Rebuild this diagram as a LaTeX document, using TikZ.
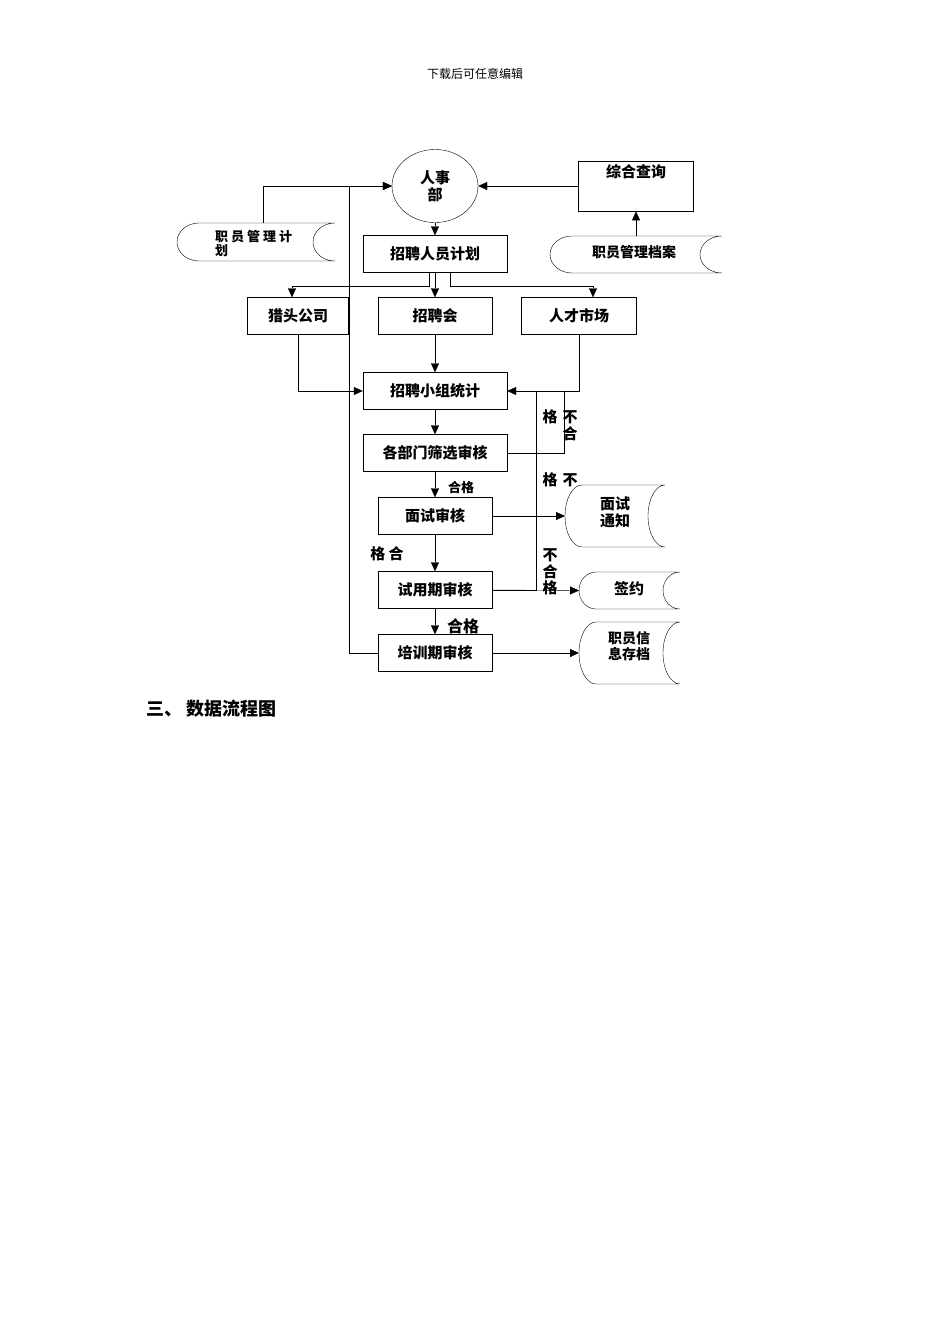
\documentclass[tikz,border=0pt]{standalone}
\usepackage{fontspec}
\newfontfamily\cjk{Noto Sans CJK SC}
\usetikzlibrary{shapes.geometric,arrows.meta}
\tikzset{
  box/.style={draw,rectangle,font=\cjk\bfseries\fontsize{15}{17}\selectfont,inner sep=0pt},
  store/.style={font=\cjk\bfseries\fontsize{14}{16}\selectfont,inner sep=0pt,align=center},
  lbl/.style={font=\cjk\bfseries\fontsize{15}{17}\selectfont,inner sep=0pt},
  flow/.style={-{Triangle[length=9pt,width=8pt]}},
}
% storage symbol: name, top, left, right, bottom, radius
\newcommand{\storage}[6]{%
  \draw (#3+#6,-#2) -- (#4,-#2)
    arc[start angle=90,end angle=270,x radius=#6 pt,y radius={(#5-#2)/2*1pt}]
    -- (#3+#6,-#5)
    arc[start angle=270,end angle=90,x radius=#6 pt,y radius={(#5-#2)/2*1pt}];
  \coordinate (#1 west) at (#3,-#2/2-#5/2);
  \coordinate (#1 north) at ({(#3+#4)/2},-#2);
}
\begin{document}
\begin{tikzpicture}[x=1pt,y=1pt]
    \useasboundingbox (0,0) rectangle (950,-1344);
    \node[font=\cjk\fontsize{12}{14}\selectfont] (head) at (475,-74) {下载后可任意编辑};

    % boxes
    \node[draw,ellipse,minimum width=86,minimum height=73,lbl,align=center,inner sep=0pt] (hr) at (435,-186) {人事\\部};
    \node[box,minimum width=115,minimum height=50,anchor=north,text depth=30pt] (query) at (636,-161) {综合查询};
    \node[box,minimum width=144,minimum height=37] (plan) at (435,-254) {招聘人员计划};
    \node[box,minimum width=101,minimum height=37] (hunt) at (298,-316) {猎头公司};
    \node[box,minimum width=114,minimum height=37] (fair) at (435,-316) {招聘会};
    \node[box,minimum width=115,minimum height=37] (market) at (579,-316) {人才市场};
    \node[box,minimum width=144,minimum height=37] (stat) at (435,-391) {招聘小组统计};
    \node[box,minimum width=144,minimum height=37] (dept) at (435,-453) {各部门筛选审核};
    \node[box,minimum width=114,minimum height=37] (interv) at (435,-516) {面试审核};
    \node[box,minimum width=114,minimum height=37] (trial) at (435,-590) {试用期审核};
    \node[box,minimum width=114,minimum height=37] (train) at (435,-653) {培训期审核};

    % storage
    \storage{mplan}{223}{177}{335}{261}{22}
    \node[store,anchor=west,align=left,font=\cjk\bfseries\fontsize{13}{14}\selectfont] (mplant) at (215,-243) {职\ 员\ 管\ 理\ 计\\划};
    \storage{arch}{236}{550}{722}{273}{22}
    \node[store] (archt) at (634,-252) {职员管理档案};
    \storage{notice}{485}{565}{665}{547}{17}
    \node[store,lbl] (noticet) at (615,-512) {面试\\通知};
    \storage{sign}{572}{579}{680}{609}{17}
    \node[lbl] (signt) at (629,-589) {签约};
    \storage{info}{622}{579}{680}{684}{17}
    \node[store] (infot) at (629,-646) {职员信\\息存档};

    % connectors
    \draw[flow] ([xshift=7]mplan north) |- (hr.west);
    \draw[flow] (train.west) -- (349,-653) -- (349,-186) -- (hr.west);
    \draw[flow] (query.west |- hr) -- (hr.east);
    \draw[flow] (arch north) -- (query.south);
    \draw[flow] (hr.south) -- (plan.north);
    \draw[flow] ([xshift=-6]plan.south) -- ++(0,-13) -| ([xshift=-6]hunt.north);
    \draw[flow] (plan.south) -- (fair.north);
    \draw[flow] ([xshift=15]plan.south) -- ++(0,-13) -| ([xshift=14]market.north);
    \draw[flow] (hunt.south) |- (stat.west);
    \draw[flow] (fair.south) -- (stat.north);
    \draw[flow] (market.south) |- (stat.east);
    \draw (dept.east) -| (564,-391);
    \draw (trial.east) -| (536,-391);
    \draw[flow] (stat.south) -- (dept.north);
    \draw[flow] (dept.south) -- (interv.north);
    \draw[flow] (interv.south) -- (trial.north);
    \draw[flow] (trial.south) -- (train.north);
    \draw[flow] (interv.east) -- (notice west);
    \draw[flow] (trial.east) -- (sign west);
    \draw[flow] (train.east) -- (info west);

    % labels
    \node[lbl] (f1a) at (550,-417) {格};
    \node[lbl] (f1b) at (570,-417) {不};
    \node[lbl] (f1c) at (570,-434) {合};
    \node[lbl] (f2a) at (550,-480) {格};
    \node[lbl] (f2b) at (570,-480) {不};
    \node[lbl] (f3a) at (550,-555) {不};
    \node[lbl] (f3b) at (550,-572) {合};
    \node[lbl] (f3c) at (550,-588) {格};
    \node[lbl] (p1) at (387,-554) {格\ 合};
    \node[lbl,font=\cjk\bfseries\fontsize{13}{15}\selectfont] (p2) at (461,-488) {合格};
    \node[lbl,font=\cjk\bfseries\fontsize{16}{18}\selectfont] (p3) at (463,-626) {合格};

    \node[anchor=west,font=\cjk\bfseries\fontsize{18}{20}\selectfont] (sec) at (143,-709) {三、\ 数据流程图};
\end{tikzpicture}
\end{document}
